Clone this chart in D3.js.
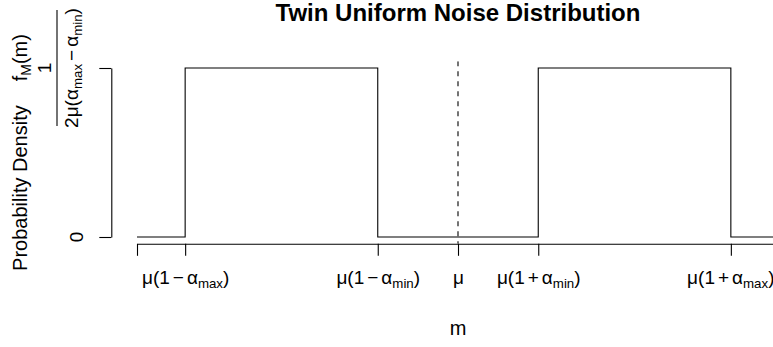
<!DOCTYPE html>
<html>
<head>
<meta charset="utf-8">
<script src="https://cdn.jsdelivr.net/npm/d3@7"></script>
<style>
  body { margin: 0; background: #fff; }
  text { font-family: "Liberation Sans", Arial, Helvetica, sans-serif; fill: #000; }
</style>
</head>
<body>
<svg id="chart" width="773" height="347"></svg>
<script>
// Twin uniform density: mean mu, half-widths between alphaMin and alphaMax (in units of mu)
const mDomain = [0, 2];
const densityM = [0, 0.15, 0.15, 0.75, 0.75, 1.25, 1.25, 1.85, 1.85, 2];
const densityF = [0, 0, 0.8333, 0.8333, 0, 0, 0.8333, 0.8333, 0, 0];
const muLine = [1];

const xTickValues = [0, 0.15, 0.75, 1, 1.25, 1.85, 2];
// tick labels as runs of text; sub = subscript run, gap = extra space before the run
const xTickLabels = [
  [],
  [{ t: "μ(1" }, { t: "−", gap: 3 }, { t: "α", gap: 3 }, { t: "max", sub: true }, { t: ")" }],
  [{ t: "μ(1" }, { t: "−", gap: 3 }, { t: "α", gap: 3 }, { t: "min", sub: true }, { t: ")" }],
  [{ t: "μ" }],
  [{ t: "μ(1" }, { t: "+", gap: 3 }, { t: "α", gap: 3 }, { t: "min", sub: true }, { t: ")" }],
  [{ t: "μ(1" }, { t: "+", gap: 3 }, { t: "α", gap: 3 }, { t: "max", sub: true }, { t: ")" }],
  []
];
const yTickValues = [0, 0.8333];
const yZeroLabel = [{ t: "0" }];
const yTopNumerator = [{ t: "1" }];
const yTopDenominator = [
  { t: "2μ(α" }, { t: "max", sub: true }, { t: "−", gap: 3 }, { t: "α", gap: 3 },
  { t: "min", sub: true }, { t: ")" }
];

const titleText = "Twin Uniform Noise Distribution";
const xTitle = "m";
const yTitle = [{ t: "Probability Density" }, { t: "f", gap: 24 }, { t: "M", sub: true }, { t: "(m)" }];

const W = 773;
const FS = 20;      // axis titles
const TFS = 19;     // tick labels
const SUB = 0.7;

const svg = d3.select("#chart");

// plot region (data range padded by 4% on each side)
const plot = { left: 111.3, right: 804.7, top: 61.2, bottom: 243.8 };

const x = d3.scaleLinear().domain(mDomain).range([137, 779]);
const y = d3.scaleLinear().domain([0, 0.8333]).range([237, 68]);

function richText(sel, parts, size) {
  let shifted = false;
  parts.forEach(p => {
    const ts = sel.append("tspan").text(p.t);
    let dy = 0;
    if (p.sub) {
      ts.attr("font-size", size * SUB);
      if (!shifted) dy = size * 0.22;
      shifted = true;
    } else {
      ts.attr("font-size", size);
      if (shifted) dy = -size * 0.22;
      shifted = false;
    }
    if (dy) ts.attr("dy", dy);
    if (p.gap) ts.attr("dx", p.gap);
  });
  return sel;
}

svg.append("defs").append("clipPath").attr("id", "plotClip")
  .append("rect")
  .attr("x", plot.left).attr("y", plot.top)
  .attr("width", plot.right - plot.left).attr("height", plot.bottom - plot.top);

const body = svg.append("g").attr("clip-path", "url(#plotClip)");

// density step curve
const pts = densityM.map((m, i) => [m, densityF[i]]);
body.append("path")
  .datum(pts)
  .attr("fill", "none")
  .attr("stroke", "#000")
  .attr("stroke-width", 1.1)
  .attr("d", d3.line().x(d => x(d[0])).y(d => y(d[1])));

// dashed mean line
body.selectAll("line.mu")
  .data(muLine)
  .join("line")
  .attr("class", "mu")
  .attr("x1", d => x(d)).attr("x2", d => x(d))
  .attr("y1", plot.top).attr("y2", plot.bottom)
  .attr("stroke", "#000")
  .attr("stroke-width", 1.1)
  .attr("stroke-dasharray", "5,5");

// x axis
const xAxis = d3.axisBottom(x)
  .tickValues(xTickValues)
  .tickSize(12)
  .tickSizeOuter(0)
  .tickFormat("");
const gx = svg.append("g")
  .attr("transform", `translate(0,${plot.bottom})`)
  .call(xAxis);
gx.select(".domain").attr("stroke", "#000").attr("stroke-width", 1.1);
gx.selectAll(".tick line").attr("stroke", "#000").attr("stroke-width", 1.1);
gx.selectAll(".tick text").remove();
gx.selectAll(".tick").each(function (d, i) {
  const parts = xTickLabels[i];
  if (!parts.length) return;
  const t = d3.select(this).append("text")
    .attr("y", 40)
    .attr("text-anchor", "middle")
    .attr("font-size", TFS);
  richText(t, parts, TFS);
  // keep the label inside the page at the right edge
  const half = t.node().getComputedTextLength() / 2;
  const over = x(d) + half - (W - 2);
  if (over > 0) t.attr("x", -over);
});

// y axis
const yAxis = d3.axisLeft(y)
  .tickValues(yTickValues)
  .tickSize(12)
  .tickSizeOuter(0)
  .tickFormat("");
const gy = svg.append("g")
  .attr("transform", `translate(${plot.left},0)`)
  .call(yAxis);
gy.select(".domain").attr("stroke", "#000").attr("stroke-width", 1.1);
gy.selectAll(".tick line").attr("stroke", "#000").attr("stroke-width", 1.1);
gy.selectAll(".tick text").remove();

// "0" label
const g0 = svg.append("g").attr("transform", `translate(0,${y(0)}) rotate(-90)`);
richText(g0.append("text").attr("y", 83).attr("text-anchor", "middle").attr("font-size", TFS), yZeroLabel, TFS);

// top label: 1 / (2 mu (alpha_max - alpha_min))
const gTop = svg.append("g").attr("transform", `translate(0,${y(0.8333)}) rotate(-90)`);
richText(gTop.append("text").attr("y", 51).attr("text-anchor", "middle").attr("font-size", TFS), yTopNumerator, TFS);
const den = gTop.append("text").attr("y", 78).attr("text-anchor", "middle").attr("font-size", TFS);
richText(den, yTopDenominator, TFS);
const denW = den.node().getComputedTextLength();
gTop.append("line")
  .attr("x1", -denW / 2 - 1).attr("x2", denW / 2 + 1)
  .attr("y1", 57).attr("y2", 57)
  .attr("stroke", "#000").attr("stroke-width", 1.1);

// titles
svg.append("text")
  .attr("x", (plot.left + plot.right) / 2).attr("y", 21)
  .attr("text-anchor", "middle")
  .attr("font-size", 24).attr("font-weight", "bold")
  .text(titleText);

svg.append("text")
  .attr("x", (plot.left + plot.right) / 2).attr("y", 335)
  .attr("text-anchor", "middle")
  .attr("font-size", FS)
  .text(xTitle);

const gYT = svg.append("g").attr("transform", `translate(0,${(plot.top + plot.bottom) / 2}) rotate(-90)`);
richText(gYT.append("text").attr("y", 27).attr("text-anchor", "middle").attr("font-size", FS), yTitle, FS);
</script>
</body>
</html>
